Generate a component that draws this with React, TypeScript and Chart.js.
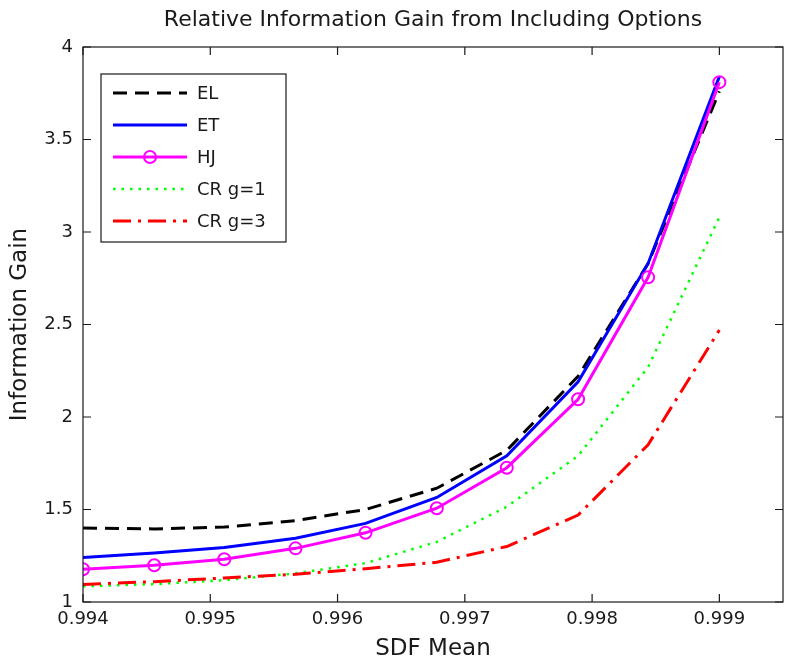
import React, { useEffect, useRef } from "react";
import { Chart, registerables } from "chart.js";

Chart.register(...registerables);

const xValues = [0.994, 0.99456, 0.99511, 0.99567, 0.99622, 0.99678, 0.99733, 0.99789, 0.99844, 0.999];
const seriesEL = [1.4, 1.395, 1.405, 1.44, 1.5, 1.615, 1.82, 2.22, 2.83, 3.76];
const seriesET = [1.24, 1.265, 1.295, 1.345, 1.425, 1.565, 1.79, 2.19, 2.83, 3.84];
const seriesHJ = [1.177, 1.199, 1.231, 1.29, 1.374, 1.507, 1.726, 2.096, 2.755, 3.81];
const seriesCR1 = [1.085, 1.097, 1.118, 1.155, 1.21, 1.325, 1.515, 1.79, 2.27, 3.08];
const seriesCR3 = [1.095, 1.11, 1.13, 1.15, 1.18, 1.215, 1.3, 1.47, 1.85, 2.47];
const seriesLabels = ["EL", "ET", "HJ", "CR g=1", "CR g=3"];
const xTicks = [0.994, 0.995, 0.996, 0.997, 0.998, 0.999];
const yTicks = [1, 1.5, 2, 2.5, 3, 3.5, 4];
const titleText = "Relative Information Gain from Including Options";
const xTitle = "SDF Mean";
const yTitle = "Information Gain";

const FONT = "'DejaVu Sans', sans-serif";
const INK = "#1a1a1a";

const toPoints = (ys: number[]) => ys.map((y, i) => ({ x: xValues[i], y }));

const frameAndLegend = {
  id: "frameAndLegend",
  afterDraw(chart: any) {
    const { ctx, chartArea, scales } = chart;
    const { left, right, top, bottom } = chartArea;
    const tl = 8;
    ctx.save();

    // title centred over the plot area
    ctx.fillStyle = INK;
    ctx.font = `22px ${FONT}`;
    ctx.textAlign = "center";
    ctx.textBaseline = "middle";
    ctx.fillText(titleText, (left + right) / 2, top - 27);

    ctx.strokeStyle = INK;
    ctx.lineWidth = 1.2;
    ctx.setLineDash([]);
    ctx.strokeRect(left, top, right - left, bottom - top);
    ctx.beginPath();
    for (const v of xTicks) {
      const px = scales.x.getPixelForValue(v);
      ctx.moveTo(px, bottom);
      ctx.lineTo(px, bottom - tl);
      ctx.moveTo(px, top);
      ctx.lineTo(px, top + tl);
    }
    for (const v of yTicks) {
      const py = scales.y.getPixelForValue(v);
      ctx.moveTo(left, py);
      ctx.lineTo(left + tl, py);
      ctx.moveTo(right, py);
      ctx.lineTo(right - tl, py);
    }
    ctx.stroke();

    // legend
    const lx = left + 18;
    const ly = top + 27;
    const lw = 185;
    const lh = 168;
    ctx.fillStyle = "#ffffff";
    ctx.fillRect(lx, ly, lw, lh);
    ctx.strokeStyle = INK;
    ctx.lineWidth = 1.2;
    ctx.strokeRect(lx, ly, lw, lh);
    chart.data.datasets.forEach((ds: any, i: number) => {
      const y = ly + 19 + i * 32;
      const x0 = lx + 12;
      const x1 = lx + 86;
      ctx.strokeStyle = ds.borderColor;
      ctx.lineWidth = ds.borderWidth;
      ctx.setLineDash(ds.borderDash || []);
      ctx.beginPath();
      ctx.moveTo(x0, y);
      ctx.lineTo(x1, y);
      ctx.stroke();
      ctx.setLineDash([]);
      if (ds.pointRadius > 0) {
        ctx.lineWidth = ds.pointBorderWidth;
        ctx.beginPath();
        ctx.arc((x0 + x1) / 2, y, ds.pointRadius, 0, Math.PI * 2);
        ctx.stroke();
      }
      ctx.fillStyle = INK;
      ctx.font = `18px ${FONT}`;
      ctx.textBaseline = "middle";
      ctx.textAlign = "left";
      ctx.fillText(ds.label, lx + 96, y + 1);
    });
    ctx.restore();
  },
};

export default function App() {
  const ref = useRef<HTMLCanvasElement | null>(null);
  useEffect(() => {
    if (!ref.current) return;
    const chart = new Chart(ref.current, {
      type: "line",
      data: {
        datasets: [
          {
            label: seriesLabels[0],
            data: toPoints(seriesEL),
            borderColor: "#000000",
            borderWidth: 3,
            borderDash: [14, 8],
            pointRadius: 0,
            order: 5,
          },
          {
            label: seriesLabels[1],
            data: toPoints(seriesET),
            borderColor: "#0000ff",
            borderWidth: 3,
            pointRadius: 0,
            order: 4,
          },
          {
            label: seriesLabels[2],
            data: toPoints(seriesHJ),
            borderColor: "#ff00ff",
            borderWidth: 3,
            pointRadius: 6,
            pointStyle: "circle",
            pointBorderColor: "#ff00ff",
            pointBackgroundColor: "rgba(0,0,0,0)",
            pointBorderWidth: 2,
            order: 3,
          },
          {
            label: seriesLabels[3],
            data: toPoints(seriesCR1),
            borderColor: "#00ff00",
            borderWidth: 2.5,
            borderDash: [2.5, 6],
            pointRadius: 0,
            order: 2,
          },
          {
            label: seriesLabels[4],
            data: toPoints(seriesCR3),
            borderColor: "#ff0000",
            borderWidth: 3,
            borderDash: [18, 7, 3, 7],
            pointRadius: 0,
            order: 1,
          },
        ] as any,
      },
      options: {
        responsive: false,
        animation: false,
        devicePixelRatio: 1,
        layout: { padding: { left: 0, right: 5, top: 47, bottom: 0 } },
        elements: { line: { tension: 0, fill: false } },
        plugins: {
          legend: { display: false },
          tooltip: { enabled: false },
          title: { display: false },
        },
        scales: {
          x: {
            type: "linear",
            min: 0.994,
            max: 0.9995,
            grid: { display: false, drawTicks: false },
            border: { display: false },
            afterBuildTicks: (scale: any) => {
              scale.ticks = xTicks.map((v) => ({ value: v }));
            },
            afterFit: (scale: any) => {
              scale.height = 65;
            },
            ticks: {
              color: INK,
              font: { family: FONT, size: 18 },
              padding: 7,
              maxRotation: 0,
              autoSkip: false,
              callback: (v: any) => Number(v).toFixed(3),
            },
            title: {
              display: true,
              text: xTitle,
              color: INK,
              font: { family: FONT, size: 23, lineHeight: 1.2 },
              padding: { top: 0, bottom: 4 },
            },
          },
          y: {
            type: "linear",
            min: 1,
            max: 4,
            grid: { display: false, drawTicks: false },
            border: { display: false },
            afterBuildTicks: (scale: any) => {
              scale.ticks = yTicks.map((v) => ({ value: v }));
            },
            afterFit: (scale: any) => {
              scale.width = 83;
            },
            ticks: {
              color: INK,
              font: { family: FONT, size: 18 },
              padding: 10,
              callback: (v: any) => String(v),
            },
            title: {
              display: true,
              text: yTitle,
              color: INK,
              font: { family: FONT, size: 23, lineHeight: 1.2 },
              padding: { top: 6, bottom: 0 },
            },
          },
        },
      } as any,
      plugins: [frameAndLegend],
    });
    return () => chart.destroy();
  }, []);

  return (
    <div style={{ position: "fixed", left: 0, top: 0, width: 791, height: 667, background: "#ffffff" }}>
      <canvas ref={ref} width={791} height={667} />
    </div>
  );
}
